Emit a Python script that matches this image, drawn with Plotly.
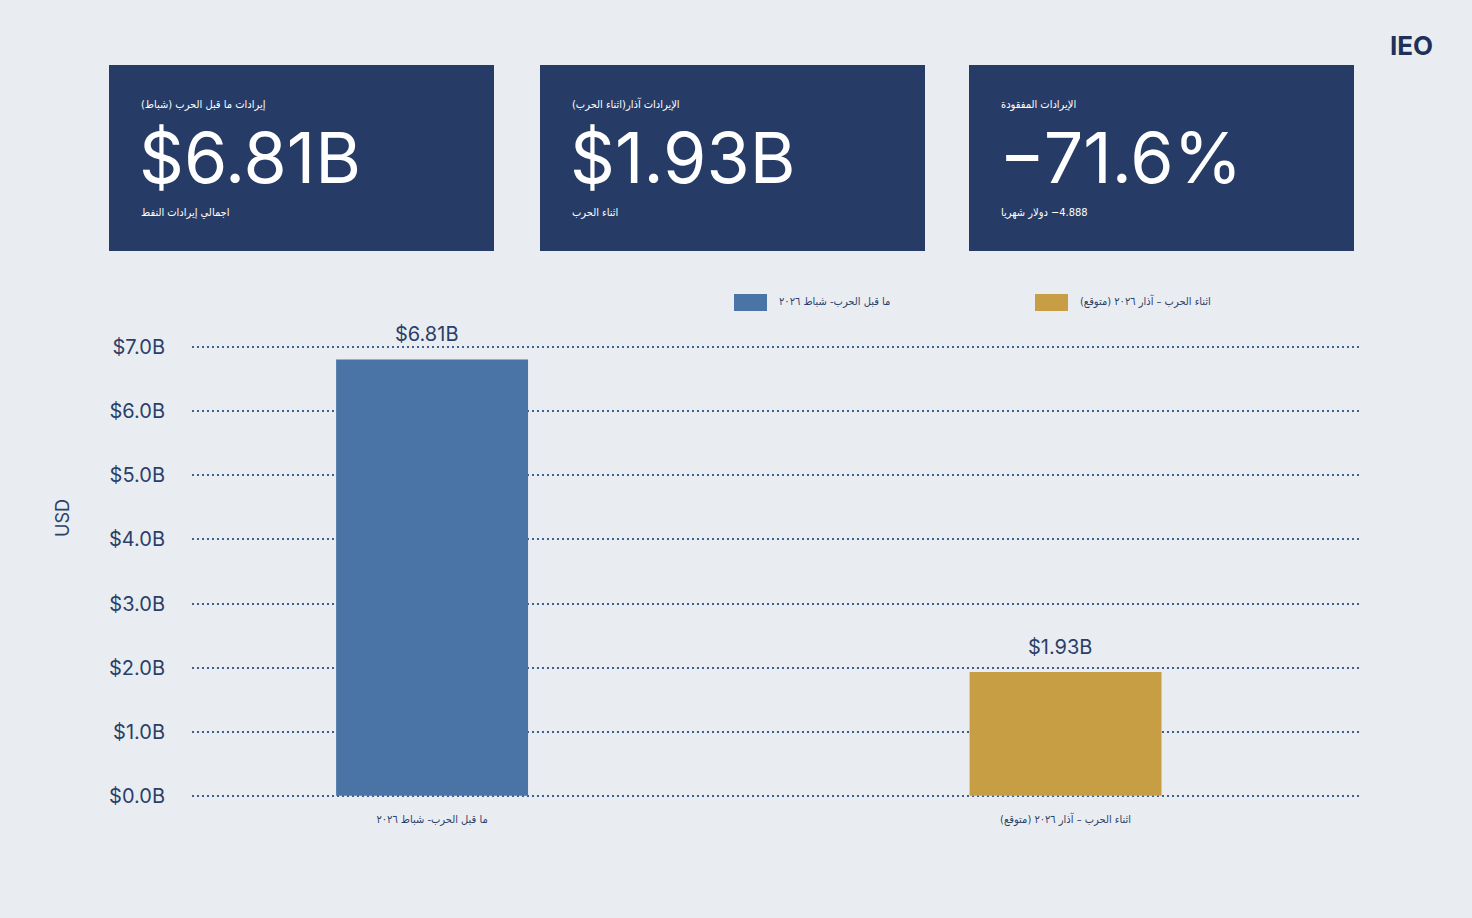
import plotly.graph_objects as go

RLM = "\u200f"
LRM = "\u200e"

# bar data
categories = [RLM + "ما قبل الحرب- شباط ٢٠٢٦" + RLM,
              RLM + "اثناء الحرب – آذار ٢٠٢٦ (متوقع)" + RLM]
revenue = [6.81, 1.93]           # billions USD
bar_colors = ["#4a74a6", "#c89e45"]
bar_labels = ["$6.81B", "$1.93B"]
y_ticks = [0, 1, 2, 3, 4, 5, 6, 7]

# summary cards
card_titles = [RLM + "إيرادات ما قبل الحرب (شباط)" + RLM,
               RLM + "الإيرادات آذار(اثناء الحرب)" + RLM,
               RLM + "الإيرادات المفقودة" + RLM]
card_values = ["$6.81B", "$1.93B", "−71.6%"]
card_notes = [RLM + "اجمالي إيرادات النفط" + RLM,
              RLM + "اثناء الحرب" + RLM,
              "دولار شهريا" + RLM + " " + LRM + "−4.888"]

BG = "#e9edf1"
NAVY = "#263c66"
TXT = "#2b3f68"
AR = "DejaVu Sans Condensed, DejaVu Sans"
W, H = 1472, 918
L, R, T, B = 192, 110, 328, 119


def px(x):
    return (x - L) / (W - L - R)


def py(y):
    return (H - B - y) / (H - T - B)


def note(x, y, text, size, color, family=AR, xanchor="left", **kw):
    fig.add_annotation(xref="paper", yref="paper", x=px(x), y=py(y), text=text,
                       showarrow=False, xanchor=xanchor, yanchor="middle",
                       font=dict(size=size, color=color, family=family), **kw)


fig = go.Figure()
for i in range(len(categories)):
    fig.add_trace(go.Bar(
        x=[categories[i]], y=[revenue[i]], width=0.303,
        marker=dict(color=bar_colors[i], line=dict(width=0)),
        showlegend=False, hoverinfo="skip",
    ))
    fig.add_annotation(x=categories[i], y=revenue[i], text=bar_labels[i],
                       showarrow=False, xanchor="center", yanchor="bottom", yshift=11, xshift=-6,
                       font=dict(size=20, color=TXT, family="Inter"))

shapes = []
card_left = [109, 540, 969]
for i, x0 in enumerate(card_left):
    shapes.append(dict(type="rect", xref="paper", yref="paper",
                       x0=px(x0), x1=px(x0 + 385), y0=py(251), y1=py(65),
                       fillcolor=NAVY, line=dict(width=0), layer="below"))
    note(x0 + 30, 104, card_titles[i], 11, "white")
    note(x0 + 28, 157, card_values[i], 70, "white", family="Inter")
    note(x0 + 30, 212, card_notes[i], 11, "white")

# legend
legend_left = [734, 1035]
for i, x0 in enumerate(legend_left):
    shapes.append(dict(type="rect", xref="paper", yref="paper",
                       x0=px(x0), x1=px(x0 + 33), y0=py(311), y1=py(294),
                       fillcolor=bar_colors[i], line=dict(width=0)))
    note(x0 + 43, 301, categories[i], 11, TXT)

note(62, 518, "USD", 18, TXT, family="Inter", xanchor="center", textangle=-90)
note(1411, 46, "<b>IEO</b>", 26, "#1f3158", family="Inter", xanchor="center")

fig.update_layout(
    width=W, height=H,
    margin=dict(l=L, r=R, t=T, b=B),
    paper_bgcolor=BG, plot_bgcolor=BG,
    barmode="overlay",
    shapes=shapes,
    xaxis=dict(type="category", range=[-0.379, 1.468], showgrid=False, zeroline=False,
               showline=False, ticks="", ticklabelstandoff=12,
               tickfont=dict(size=11, color=TXT, family=AR)),
    yaxis=dict(range=[-0.05, 7.3], tickmode="array", tickvals=y_ticks,
               ticktext=[f"${v:.1f}B" for v in y_ticks],
               showgrid=True, gridcolor="#3d5f92", griddash="2px,3px", gridwidth=2,
               zeroline=False, showline=False,
               ticklabelstandoff=26, tickfont=dict(size=20, color=TXT, family="Inter")),
)

fig.write_html("out.html", config={"displayModeBar": False},
               post_script="document.body.style.margin='0';")
